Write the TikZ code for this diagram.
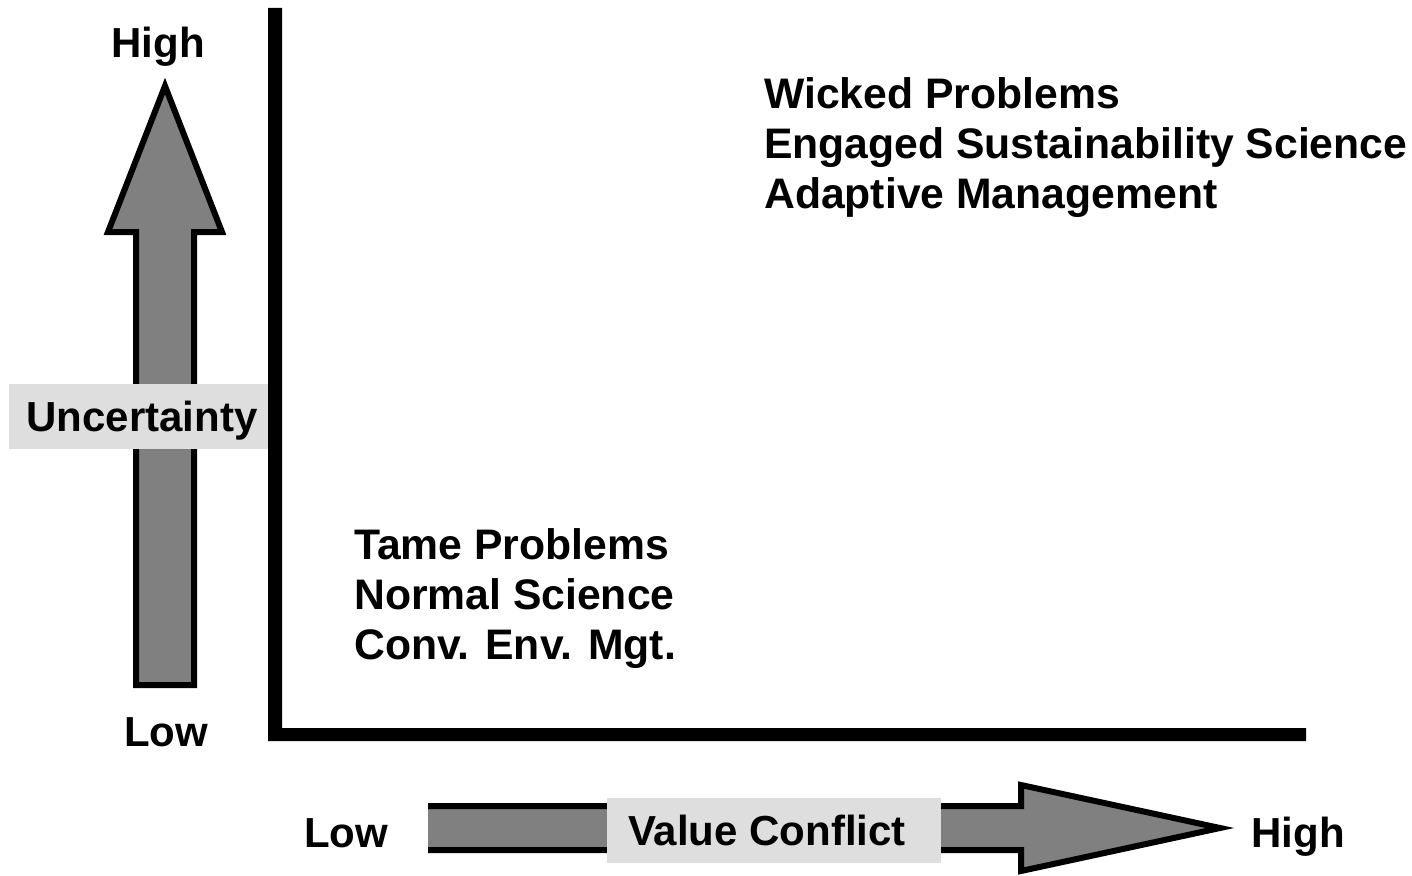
\documentclass[tikz,border=0pt]{standalone}
\usepackage{fontspec}
\setmainfont{Liberation Sans}
\begin{document}
\begin{tikzpicture}[x=1pt,y=-1pt,
  lbl/.style={inner sep=0pt,font=\fontsize{42}{50}\selectfont\bfseries},
  block/.style={inner sep=0pt,font=\fontsize{42.7}{50}\selectfont\bfseries,
                align=left,anchor=north west},
  tagbox/.style={lbl,fill=black!13,text height=30pt,text depth=0pt,
                 minimum height=65pt},
  bigarrow/.style={fill=black!50,draw=black,line width=6pt,line join=miter}]
\useasboundingbox (0,0) rectangle (1412,875);

% axes
\fill (268,8) -- (282,8) -- (282,728) -- (1306,728) -- (1306,741) -- (268,741) -- cycle;

% uncertainty arrow
\path[bigarrow] (136,685) -- (136,232) -- (108,232) -- (165,86) -- (222,232)
  -- (194,232) -- (194,685) -- cycle;

% value conflict arrow (open tail)
\path[bigarrow] (428,806) -- (1021,806) -- (1021,785) -- (1220,828)
  -- (1021,871) -- (1021,850) -- (428,850);

% vertical axis labels
\node[lbl,anchor=base] (uhigh) at (158,57) {High};
\node[lbl,anchor=base] (ulow) at (166,746) {Low};
\node[tagbox,minimum width=259pt] (unc) at (138.5,416.5) {\kern7pt Uncertainty};

% horizontal axis labels
\node[lbl,anchor=base] (vlow) at (346,847) {Low};
\node[tagbox,minimum width=334pt] (val) at (774,830) {Value Conflict\kern14pt\relax};
\node[lbl,anchor=base] (vhigh) at (1298,847) {High};

% quadrant texts
\node[block] (wicked) at (764,77) {Wicked Problems\\Engaged Sustainability Science\\Adaptive Management};
\node[block] (tame) at (354,528) {Tame Problems\\Normal Science\\Conv. Env. Mgt.};
\end{tikzpicture}
\end{document}
